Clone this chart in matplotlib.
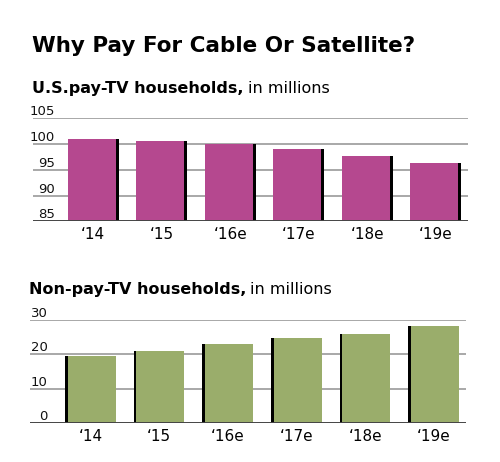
import matplotlib
matplotlib.use('Agg')
from matplotlib import pyplot as plt

# chart data
years = ['\u201814', '\u201815', '\u201816e', '\u201817e', '\u201818e', '\u201819e']
pay_tv = [101.0, 100.6, 100.0, 99.0, 97.7, 96.4]
non_pay_tv = [19.5, 20.8, 23.1, 24.8, 25.8, 28.1]
pay_ticks = [85, 90, 95, 100, 105]
non_pay_ticks = [0, 10, 20, 30]

plt.rcParams['font.family'] = ['DejaVu Sans']

magenta = '#b5488f'
green = '#9aad6b'
grid_col = '#9a9a9a'

fig = plt.figure(figsize=(5, 4.62), dpi=100)
fig.patch.set_facecolor('white')

fig.text(0.064, 0.900, 'Why Pay For Cable Or Satellite?', fontsize=15.5,
         fontweight='bold', ha='left', va='center')


def panel(rect, values, ticks, color, bold, label_x, shadow_side):
    ax = fig.add_axes(rect)
    x = list(range(len(values)))
    w = 0.74
    s = 0.04
    base = ticks[0]
    heights = [v - base for v in values]
    # black edge on one side of every bar
    ax.bar(x, heights, w, bottom=base, color='black', zorder=2)
    if shadow_side == 'right':
        ax.bar([i - s / 2 for i in x], heights, w - s, bottom=base, color=color, zorder=3)
    else:
        ax.bar([i + s / 2 for i in x], heights, w - s, bottom=base, color=color, zorder=3)
    ax.set_xlim(-0.88, 5.47)
    ax.set_ylim(ticks[0], ticks[-1])
    for t in ticks[1:]:
        ax.axhline(t, color=grid_col, lw=1.2, zorder=1)
    ax.axhline(ticks[0], color='#444444', lw=1.4, zorder=4)
    for t in ticks:
        ax.text(label_x, t, str(t), ha='right', va='bottom', fontsize=9.5,
                transform=ax.get_yaxis_transform(), color='#111111')
    for sp in ax.spines.values():
        sp.set_visible(False)
    ax.set_yticks([])
    ax.set_xticks(x)
    ax.set_xticklabels(years, fontsize=11)
    ax.tick_params(axis='x', length=0, pad=4)
    top = ax.get_position()
    fig.text(top.x0 - 0.002, top.y1 + 0.065, bold, fontsize=11.5,
             fontweight='bold', ha='left', va='center')
    return ax


ax1 = panel([0.066, 0.521, 0.870, 0.223], pay_tv, pay_ticks, magenta,
            'U.S.pay-TV households,', 0.05, 'right')
ax2 = panel([0.060, 0.084, 0.872, 0.224], non_pay_tv, non_pay_ticks, green,
            'Non-pay-TV households,', 0.04, 'left')

fig.canvas.draw()
r = fig.canvas.get_renderer()
for t in fig.texts[1:]:
    bb = t.get_window_extent(r)
    x1, y = fig.transFigure.inverted().transform((bb.x1, (bb.y0 + bb.y1) / 2))
    fig.text(x1 + 0.008, t.get_position()[1], 'in millions', fontsize=11.5,
             ha='left', va='center')

plt.savefig('out.png', dpi=100)
